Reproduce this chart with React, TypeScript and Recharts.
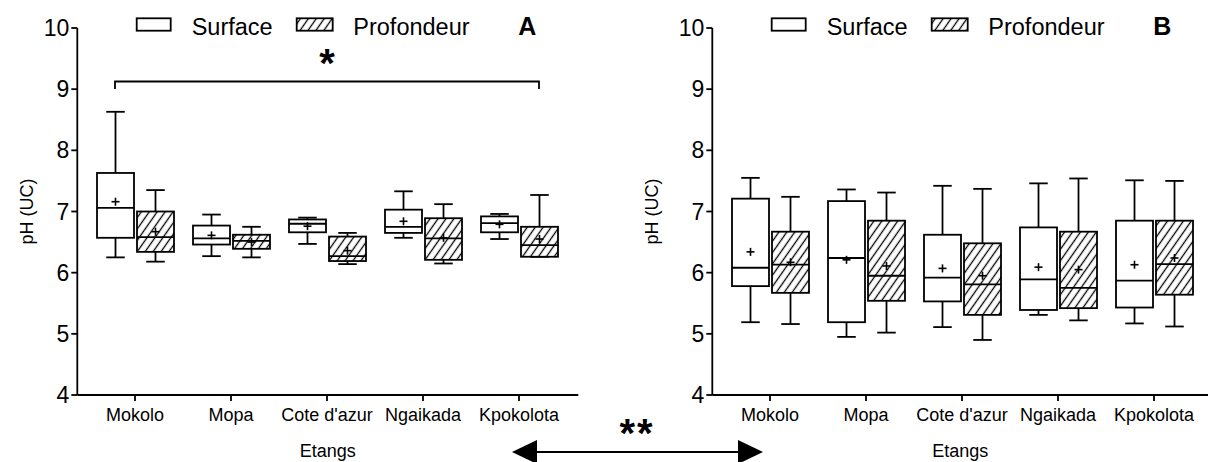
import React from 'react';
import { ComposedChart, Bar, XAxis, YAxis, ReferenceLine, Label } from 'recharts';

const FONT = "Arial, 'Liberation Sans', Helvetica, sans-serif";

const categories = ['Mokolo', 'Mopa', "Cote d'azur", 'Ngaikada', 'Kpokolota'];
const yTicks = [4, 5, 6, 7, 8, 9, 10];

// Panel A - Surface
const aSurfMin = [6.25, 6.27, 6.47, 6.57, 6.55];
const aSurfQ1 = [6.57, 6.46, 6.66, 6.65, 6.66];
const aSurfMed = [7.06, 6.56, 6.8, 6.75, 6.81];
const aSurfQ3 = [7.63, 6.77, 6.87, 7.03, 6.92];
const aSurfMax = [8.63, 6.95, 6.9, 7.33, 6.96];
const aSurfMean = [7.16, 6.61, 6.76, 6.84, 6.79];
// Panel A - Profondeur
const aDeepMin = [6.18, 6.25, 6.14, 6.15, 6.26];
const aDeepQ1 = [6.34, 6.39, 6.19, 6.21, 6.26];
const aDeepMed = [6.58, 6.52, 6.27, 6.56, 6.45];
const aDeepQ3 = [7.0, 6.62, 6.59, 6.89, 6.75];
const aDeepMax = [7.35, 6.75, 6.65, 7.12, 7.27];
const aDeepMean = [6.67, 6.5, 6.36, 6.57, 6.55];

// Panel B - Surface
const bSurfMin = [5.19, 4.95, 5.11, 5.31, 5.17];
const bSurfQ1 = [5.78, 5.19, 5.53, 5.39, 5.43];
const bSurfMed = [6.08, 6.24, 5.92, 5.89, 5.87];
const bSurfQ3 = [7.21, 7.17, 6.62, 6.74, 6.85];
const bSurfMax = [7.55, 7.36, 7.42, 7.46, 7.51];
const bSurfMean = [6.34, 6.21, 6.07, 6.09, 6.13];
// Panel B - Profondeur
const bDeepMin = [5.16, 5.02, 4.9, 5.22, 5.12];
const bDeepQ1 = [5.67, 5.54, 5.31, 5.42, 5.64];
const bDeepMed = [6.13, 5.95, 5.81, 5.75, 6.14];
const bDeepQ3 = [6.67, 6.85, 6.48, 6.67, 6.85];
const bDeepMax = [7.24, 7.31, 7.37, 7.54, 7.5];
const bDeepMean = [6.17, 6.11, 5.95, 6.05, 6.24];

type Stats = { min: number; q1: number; med: number; q3: number; max: number; mean: number };

function stats(mn: number[], q1: number[], md: number[], q3: number[], mx: number[], me: number[], i: number): Stats {
  return { min: mn[i], q1: q1[i], med: md[i], q3: q3[i], max: mx[i], mean: me[i] };
}

const dataA = categories.map((name, i) => ({
  name,
  s: stats(aSurfMin, aSurfQ1, aSurfMed, aSurfQ3, aSurfMax, aSurfMean, i),
  d: stats(aDeepMin, aDeepQ1, aDeepMed, aDeepQ3, aDeepMax, aDeepMean, i),
}));
const dataB = categories.map((name, i) => ({
  name,
  s: stats(bSurfMin, bSurfQ1, bSurfMed, bSurfQ3, bSurfMax, bSurfMean, i),
  d: stats(bDeepMin, bDeepQ1, bDeepMed, bDeepQ3, bDeepMax, bDeepMean, i),
}));

const SW = 1.8;
const BAR_SIZE = 37;
const BAR_GAP = 3;

const makeBox = (key: 's' | 'd', fill: string) => (props: any) => {
  const { x, y, width, height, payload } = props;
  const st: Stats = payload[key];
  const span = st.max - st.min;
  const pix = (v: number) => (span === 0 ? y : y + (height * (st.max - v)) / span);
  const cx = x + width / 2;
  const capL = cx - width / 4;
  const capR = cx + width / 4;
  const yMax = pix(st.max);
  const yMin = pix(st.min);
  const yQ3 = pix(st.q3);
  const yQ1 = pix(st.q1);
  const yMed = pix(st.med);
  const yMean = pix(st.mean);
  return (
    <g>
      <line x1={cx} x2={cx} y1={yMax} y2={yQ3} stroke="#000" strokeWidth={SW} />
      <line x1={cx} x2={cx} y1={yQ1} y2={yMin} stroke="#000" strokeWidth={SW} />
      <line x1={capL} x2={capR} y1={yMax} y2={yMax} stroke="#000" strokeWidth={SW} />
      <line x1={capL} x2={capR} y1={yMin} y2={yMin} stroke="#000" strokeWidth={SW} />
      <rect x={x} y={yQ3} width={width} height={Math.max(0, yQ1 - yQ3)} fill={fill} stroke="#000" strokeWidth={SW} />
      <line x1={x} x2={x + width} y1={yMed} y2={yMed} stroke="#000" strokeWidth={SW} />
      <line x1={cx - 4} x2={cx + 4} y1={yMean} y2={yMean} stroke="#000" strokeWidth={1.6} />
      <line x1={cx} x2={cx} y1={yMean - 4} y2={yMean + 4} stroke="#000" strokeWidth={1.6} />
    </g>
  );
};

const SurfaceBox = makeBox('s', '#fff');
const DeepBox = makeBox('d', 'url(#hatch)');

const Bracket = (props: any) => {
  const { x1, y1, x2 } = props;
  const off = (BAR_SIZE + BAR_GAP) / 2;
  const l = x1 - off;
  const r = x2 + off;
  return (
    <g>
      <path d={`M${l},${y1 + 7.6} V${y1} H${r} V${y1 + 7.6}`} fill="none" stroke="#000" strokeWidth={SW} />
      <text x={(l + r) / 2} y={y1 - 5} textAnchor="middle" fontFamily={FONT} fontWeight="bold" fontSize={40} fill="#000">*</text>
    </g>
  );
};

const yLabel = (dx: number) => (props: any) => {
  const vb = props.viewBox || {};
  const cy = vb.y + vb.height / 2;
  const x = vb.x + dx;
  return (
    <text x={x} y={cy} transform={`rotate(-90 ${x} ${cy})`} textAnchor="middle" dominantBaseline="central" fontFamily={FONT} fontSize={18} fill="#000">
      pH (UC)
    </text>
  );
};

function Panel({ data, width, yAxisWidth, rightMargin, padRight, labelDx, bracket }: any) {
  return (
    <ComposedChart width={width} height={462} data={data} margin={{ top: 28, right: rightMargin, bottom: 0, left: 0 }} barSize={BAR_SIZE} barGap={BAR_GAP}>
      <XAxis
        dataKey="name"
        height={67}
        padding={{ left: 9.7, right: padRight }}
        axisLine={{ stroke: '#000', strokeWidth: SW }}
        tickLine={{ stroke: '#000', strokeWidth: SW }}
        tickSize={6}
        tickMargin={7}
        interval={0}
        tick={{ fill: '#000', fontSize: 18, fontFamily: FONT }}
      >
        <Label value="Etangs" position="insideBottom" offset={5} fill="#000" fontSize={18} fontFamily={FONT} />
      </XAxis>
      <YAxis
        type="number"
        domain={[4, 10]}
        ticks={yTicks}
        width={yAxisWidth}
        interval={0}
        axisLine={{ stroke: '#000', strokeWidth: SW }}
        tickLine={{ stroke: '#000', strokeWidth: SW }}
        tickSize={6}
        tickMargin={2}
        tick={{ fill: '#000', fontSize: 23, fontFamily: FONT }}
        label={{ content: yLabel(labelDx) }}
      />
      <Bar dataKey={(r: any) => [r.s.min, r.s.max]} name="Surface" shape={SurfaceBox} isAnimationActive={false} />
      <Bar dataKey={(r: any) => [r.d.min, r.d.max]} name="Profondeur" shape={DeepBox} isAnimationActive={false} />
      {bracket ? (
        <ReferenceLine segment={[{ x: categories[0], y: 9.125 }, { x: categories[4], y: 9.125 }]} shape={Bracket} ifOverflow="visible" />
      ) : null}
    </ComposedChart>
  );
}

function LegendGroup({ x, letter }: { x: number; letter: string }) {
  return (
    <g fontFamily={FONT} fill="#000">
      <rect x={x} y={18.3} width={34} height={12.4} fill="#fff" stroke="#000" strokeWidth={SW} />
      <text x={x + 55} y={34.5} fontSize={23.5}>Surface</text>
      <rect x={x + 160} y={18.3} width={36} height={12.4} fill="url(#hatch)" stroke="#000" strokeWidth={SW} />
      <text x={x + 216.6} y={34.5} fontSize={23.5}>Profondeur</text>
      <text x={x + 381.6} y={35} fontSize={25} fontWeight="bold">{letter}</text>
    </g>
  );
}

export default function App() {
  return (
    <div style={{ position: 'absolute', left: 0, top: 0, width: 1208, height: 462, background: '#fff', overflow: 'hidden' }}>
      <div style={{ position: 'absolute', left: 0, top: 0 }}>
        <Panel data={dataA} width={600} yAxisWidth={77.3} rightMargin={21.7} padRight={11.3} labelDx={27} bracket />
      </div>
      <div style={{ position: 'absolute', left: 620, top: 0 }}>
        <Panel data={dataB} width={588} yAxisWidth={92.3} rightMargin={0} padRight={6} labelDx={32} bracket={false} />
      </div>
      <svg width={1208} height={462} style={{ position: 'absolute', left: 0, top: 0, pointerEvents: 'none' }}>
        <defs>
          <pattern id="hatch" patternUnits="userSpaceOnUse" width={6.5} height={6.5} patternTransform="rotate(35)">
            <rect width={6.5} height={6.5} fill="#fff" />
            <line x1={3.25} y1={0} x2={3.25} y2={6.5} stroke="#000" strokeWidth={1.3} />
          </pattern>
        </defs>
        <LegendGroup x={136.7} letter="A" />
        <LegendGroup x={771.7} letter="B" />
        <text x={637} y={447} textAnchor="middle" fontFamily={FONT} fontWeight="bold" fontSize={40} fill="#000" letterSpacing={2}>**</text>
        <line x1={530} y1={452} x2={745} y2={452} stroke="#000" strokeWidth={SW} />
        <polygon points="512,452 537,440 537,464" fill="#000" />
        <polygon points="763,452 738,440 738,464" fill="#000" />
      </svg>
    </div>
  );
}
